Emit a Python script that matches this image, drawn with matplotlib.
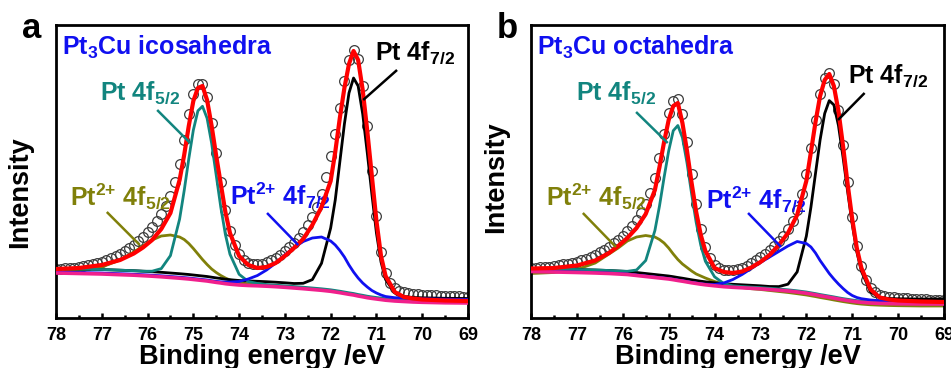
import numpy as np
import matplotlib
matplotlib.use("Agg")
import matplotlib.pyplot as plt
from matplotlib.ticker import MultipleLocator

plt.rcParams['font.family'] = ['Liberation Sans', 'DejaVu Sans']
plt.rcParams['font.weight'] = 'bold'
plt.rcParams['mathtext.fontset'] = 'custom'
plt.rcParams['mathtext.rm'] = 'Liberation Sans:bold'
plt.rcParams['mathtext.it'] = 'Liberation Sans:bold'
plt.rcParams['mathtext.bf'] = 'Liberation Sans:bold'
plt.rcParams['mathtext.sf'] = 'Liberation Sans:bold'
plt.rcParams['mathtext.default'] = 'rm'

# ---------------- data (binding energy in eV, intensity in arbitrary units) ----------------
energy_fit = [78.0, 77.5, 77.0, 76.6, 76.3, 76.1, 75.9, 75.7, 75.5, 75.3,
              75.2, 75.1, 75.0, 74.9, 74.8, 74.7, 74.6, 74.5, 74.4, 74.3,
              74.2, 74.0, 73.8, 73.6, 73.4, 73.2, 73.0, 72.8, 72.6, 72.4,
              72.2, 72.0, 71.9, 71.8, 71.7, 71.6, 71.5, 71.4, 71.3, 71.2,
              71.1, 71.0, 70.9, 70.8, 70.6, 70.4, 70.2, 70.0, 69.5, 69.0]
energy_raw = np.round(np.linspace(78.0, 69.0, 91), 2)

# panel a : Pt3Cu icosahedra
raw_a = [49, 49.3, 49.6, 50, 50.5, 51, 52, 53, 54, 55,
         56.5, 58, 60, 62, 64.5, 67, 70, 73, 77, 81,
         86, 91, 97, 104, 112, 122, 136, 154, 178, 204,
         224, 234, 234, 221, 195, 165, 136, 108, 87, 73,
         64, 58.5, 55.5, 54, 54, 54.5, 56, 58, 60.5, 63.5,
         67, 71, 75, 80, 86, 93, 101, 111, 124, 141,
         162, 184, 210, 237, 258, 268, 259, 232, 192, 147,
         102, 66, 45, 35, 30, 27.5, 26, 25, 24.5, 24,
         23.5, 23.2, 23, 22.7, 22.5, 22.3, 22, 21.8, 21.6, 21.4,
         21.2]
background_a = [45, 44.5, 44, 43.3, 42.8, 42.3, 41.8, 41.2, 40.5, 39.8,
                39.4, 39, 38.5, 38, 37.5, 37, 36.3, 35.6, 35, 34.3,
                33.8, 33, 32.5, 32.2, 31.8, 31.3, 30.7, 30, 29.3, 28.5,
                27.7, 26.7, 26, 25.3, 24.5, 23.7, 23, 22, 21.2, 20.3,
                19.6, 19, 18.4, 17.8, 17, 16.5, 16, 15.7, 15.2, 15]
pt0_52_a = [49.5, 49, 48.5, 47.8, 47.3, 46.8, 46.8, 49.4, 62.4, 98.9,
            127.3, 159, 187.9, 207.2, 211.7, 199.8, 174.7, 142.7, 110.7, 83.6,
            63.8, 43.7, 36.5, 34.5, 33.5, 32.8, 32.2, 31.5, 30.8, 30,
            29.2, 28.2, 27.5, 26.8, 26, 25.2, 24.5, 23.5, 22.7, 21.8,
            21.1, 20.5, 19.9, 19.3, 18.5, 18, 17.5, 17.2, 16.7, 16.5]
pt2_52_a = [46, 47.5, 51, 58, 66, 72, 78, 82, 83, 81,
            78.5, 74.5, 69.5, 64, 58.5, 53.5, 49, 45.5, 42.5, 40,
            38, 35.5, 34, 33.2, 32.5, 32, 31.3, 30.6, 30, 29.2,
            28.4, 27.5, 26.8, 26, 25.2, 24.4, 23.6, 22.6, 21.8, 20.9,
            20.2, 19.5, 18.9, 18.3, 17.5, 17, 16.5, 16.2, 15.7, 15.5]
pt2_72_a = [46, 45.5, 45, 44.3, 43.8, 43.3, 42.8, 42.2, 41.5, 40.8,
            40.4, 40, 39.5, 39, 38.5, 38, 37.3, 36.6, 36.2, 36,
            36, 36.5, 39, 42.5, 48, 55, 63, 70.5, 76.5, 80,
            81, 77, 73, 67.5, 61, 53, 46, 40, 35, 31,
            27.5, 25, 23, 21.5, 20.3, 19.8, 19.5, 19.2, 18.8, 18.5]
pt0_72_a = [49.5, 49, 48.5, 47.8, 47.3, 46.8, 46.3, 45.7, 45, 44.3,
            43.9, 43.5, 43, 42.5, 42, 41.5, 40.8, 40.1, 39.5, 38.8,
            38.3, 37.5, 37, 36.7, 36.3, 35.8, 35.2, 34.5, 34.7, 38.4,
            54.7, 90, 118, 156, 194, 225, 240, 232, 204, 165,
            124, 85, 56, 38.5, 25, 21.5, 20.5, 20.2, 19.7, 19.5]
envelope_a = [49, 50, 53, 58, 64.5, 70.5, 78, 89, 105, 138,
              163, 192, 217, 230, 232, 218, 192, 162, 134, 106,
              85, 62, 53, 50, 51, 55, 62, 70, 79, 93,
              111, 137, 166, 200, 230, 254, 267, 258, 228, 187,
              142, 97, 62, 42, 26, 21, 19.5, 18.5, 17.5, 17]

# panel b : Pt3Cu octahedra
raw_b = [50, 50.3, 50.6, 51, 51.5, 52, 52.8, 53.6, 54.5, 55.5,
         56.5, 58, 59.5, 61.5, 63.5, 66, 68.5, 71.5, 75, 78.5,
         82.5, 87, 92, 98, 105, 114, 125, 140, 160, 184,
         205, 217, 219, 204, 176, 144, 114, 89, 71, 60,
         53.5, 50, 48.5, 48, 48.3, 49, 50.5, 52.5, 55, 58,
         61, 64.5, 68, 72, 77, 82.5, 89, 97, 108, 124,
         144, 170, 198, 224, 240, 245, 234, 208, 173, 136,
         101, 72, 52, 38, 30.5, 26, 23.5, 22, 21.2, 20.6,
         20.2, 19.9, 19.6, 19.3, 19, 18.8, 18.6, 18.4, 18.2, 18,
         17.8]
background_b = [46.5, 46, 45.5, 45, 44.5, 44, 43.5, 42.5, 41.5, 40.5,
                40, 39.5, 39, 38.3, 37.5, 36.8, 36, 35.2, 34.5, 33.8,
                33.2, 32.2, 31.3, 30.7, 30.2, 29.7, 29.2, 28.5, 27.8, 27,
                26, 24.8, 24, 23.2, 22.3, 21.5, 20.7, 19.9, 19, 18.2,
                17.5, 16.8, 16.2, 15.7, 15, 14.6, 14.4, 14.2, 14, 14]
pt0_52_b = [49.5, 49, 48.5, 48, 47.5, 47, 46.7, 48, 57.5, 87.5,
            112, 140.5, 167, 187.3, 192.5, 180.4, 155, 124.2, 95.5, 72.8,
            56.7, 41.2, 34.5, 32.2, 31.5, 30.9, 30.4, 29.7, 29, 28.2,
            27.2, 26, 25.2, 24.4, 23.5, 22.7, 21.9, 21.1, 20.2, 19.4,
            18.7, 18, 17.4, 16.9, 16.2, 15.8, 15.6, 15.4, 15.2, 15.2]
pt2_52_b = [44.5, 45.5, 48.5, 55, 64, 70, 77, 81, 82.5, 81,
            78.5, 75, 70, 64, 58.5, 54, 50.5, 47, 44, 42,
            40, 36.5, 34, 32, 30.5, 29.3, 28.5, 27.5, 26.5, 25.5,
            24.3, 23, 22.2, 21.4, 20.5, 19.7, 18.9, 18, 17.2, 16.4,
            15.7, 15, 14.4, 13.9, 13.2, 12.8, 12.5, 12.3, 12, 12]
pt2_72_b = [47, 46.5, 46, 45.5, 45, 44.5, 44, 43, 42, 41,
            40.5, 40, 39.5, 38.8, 38, 37.3, 36.5, 35.7, 35, 34.3,
            33.8, 33.5, 35, 38.5, 43.5, 49.5, 55.5, 61, 66.5, 72,
            76.5, 74.5, 71, 65, 57.5, 51, 44.5, 39, 34, 29.5,
            25.5, 22.5, 20.5, 19.3, 18, 17.3, 17, 16.8, 16.5, 16.3]
pt0_72_b = [49.5, 49, 48.5, 48, 47.5, 47, 46.5, 45.5, 44.5, 43.5,
            43, 42.5, 42, 41.3, 40.5, 39.8, 39, 38.2, 37.5, 36.8,
            36.2, 35.2, 34.3, 33.7, 33.2, 32.7, 32.2, 31.5, 31.4, 33.8,
            46.1, 81.8, 110.8, 144.6, 178.1, 204.5, 217.4, 213.1, 192.5, 160.7,
            126.5, 93.8, 66.2, 46.7, 26, 20.5, 19.5, 19.2, 19, 19]
envelope_b = [49.5, 50, 52.5, 57.5, 65, 72, 80, 90, 104, 128,
              151, 176, 198, 212, 215, 195, 167, 135, 106, 83,
              67, 50, 46, 45, 46.5, 50.5, 56, 63, 73, 85,
              103, 137, 166, 196, 222, 238, 244, 232, 207, 172,
              134, 99, 70, 50, 28.5, 20.5, 18.5, 17.5, 16.5, 16]

panel_letters = ['a', 'b']
titles = [r'Pt$_{\text{3}}$Cu icosahedra', r'Pt$_{\text{3}}$Cu octahedra']
xticks = [78, 77, 76, 75, 74, 73, 72, 71, 70, 69]

# colours
C_RAW = '#3c3c3c'
C_FIT = '#ff0000'
C_BG = '#f0208c'
C_T = '#12857f'
C_O = '#80800a'
C_B = '#1010f0'
C_K = '#000000'

fig = plt.figure(figsize=(9.51, 3.68), dpi=100)
W, H = 951, 368
axes_px = [(56, 25, 412, 293), (531, 25, 413, 293)]

panels = [
    dict(raw=raw_a, bg=background_a, t=pt0_52_a, o=pt2_52_a, b=pt2_72_a, k=pt0_72_a, fit=envelope_a,
         ylab=(-0.056, 0.43),
         lab72=(71.03, 258), lead72=((70.55, 248), (71.29, 218)),
         lab52=(77.04, 218), lead52=((75.79, 208), (75.07, 175)),
         labo=(77.69, 113), leado=((76.89, 106), (76.17, 73)),
         labb=(74.20, 114), leadb=((73.39, 105), (72.71, 73))),
    dict(raw=raw_b, bg=background_b, t=pt0_52_b, o=pt2_52_b, b=pt2_72_b, k=pt0_72_b, fit=envelope_b,
         ylab=(-0.053, 0.48),
         lab72=(71.09, 235), lead72=((70.73, 225), (71.31, 198)),
         lab52=(77.02, 218), lead52=((75.71, 206), (75.02, 175)),
         labo=(77.67, 113), leado=((76.87, 105), (76.15, 71)),
         labb=(74.18, 110), leadb=((73.27, 105), (72.55, 71))),
]

for i, p in enumerate(panels):
    l, t, w, h = axes_px[i]
    ax = fig.add_axes([l / W, (H - t - h) / H, w / W, h / H])
    ax.plot(energy_raw, p['raw'], 'o', mfc='none', mec=C_RAW, ms=7.0, mew=0.9, zorder=1)
    ax.plot(energy_fit, p['o'], color=C_O, lw=2.0, zorder=2)
    ax.plot(energy_fit, p['k'], color=C_K, lw=2.0, zorder=3)
    ax.plot(energy_fit, p['t'], color=C_T, lw=2.0, zorder=4)
    ax.plot(energy_fit, p['b'], color=C_B, lw=2.0, zorder=5)
    ax.plot(energy_fit, p['bg'], color=C_BG, lw=2.6, zorder=6)
    ax.plot(energy_fit, p['fit'], color=C_FIT, lw=3.0, zorder=7)

    ax.set_xlim(78, 69)
    ax.set_ylim(0, 293)
    ax.set_yticks([])
    ax.set_xticks(xticks)
    ax.set_xticklabels([str(v) for v in xticks])
    ax.xaxis.set_minor_locator(MultipleLocator(0.5))
    ax.tick_params(axis='x', which='major', direction='in', length=3.5, width=1.8,
                   labelsize=13, pad=6.5, top=False)
    ax.tick_params(axis='x', which='minor', direction='in', length=2, width=1.8, top=False)
    for lab in ax.get_xticklabels():
        lab.set_fontweight('bold')
    for s in ax.spines.values():
        s.set_linewidth(2.0)

    ax.set_xlabel('Binding energy /eV', fontsize=19.5, fontweight='bold')
    ax.xaxis.set_label_coords(0.5, -0.09)
    ax.set_ylabel('Intensity', fontsize=19.5, fontweight='bold')
    ax.yaxis.set_label_coords(*p['ylab'])

    ax.text(0.015, 0.898, titles[i], transform=ax.transAxes, color=C_B, fontsize=18,
            fontweight='bold', ha='left', va='baseline')

    ax.text(*p['lab72'], r'Pt 4f$_{\text{7/2}}$', color=C_K, fontsize=18, fontweight='bold',
            ha='left', va='baseline')
    ax.text(*p['lab52'], r'Pt 4f$_{\text{5/2}}$', color=C_T, fontsize=18, fontweight='bold',
            ha='left', va='baseline')
    ax.text(*p['labo'], r'Pt$^{\text{2+}}$ 4f$_{\text{5/2}}$', color=C_O, fontsize=18,
            fontweight='bold', ha='left', va='baseline')
    ax.text(*p['labb'], r'Pt$^{\text{2+}}$ 4f$_{\text{7/2}}$', color=C_B, fontsize=18,
            fontweight='bold', ha='left', va='baseline')
    for key, col in (('lead72', C_K), ('lead52', C_T), ('leado', C_O), ('leadb', C_B)):
        (x0, y0), (x1, y1) = p[key]
        ax.plot([x0, x1], [y0, y1], color=col, lw=1.8, zorder=8, solid_capstyle='butt')

    fig.text((l - 34) / W, 1 - 38 / H, panel_letters[i], fontsize=25, fontweight='bold',
             ha='left', va='baseline')

fig.savefig('out.png', dpi=100)
